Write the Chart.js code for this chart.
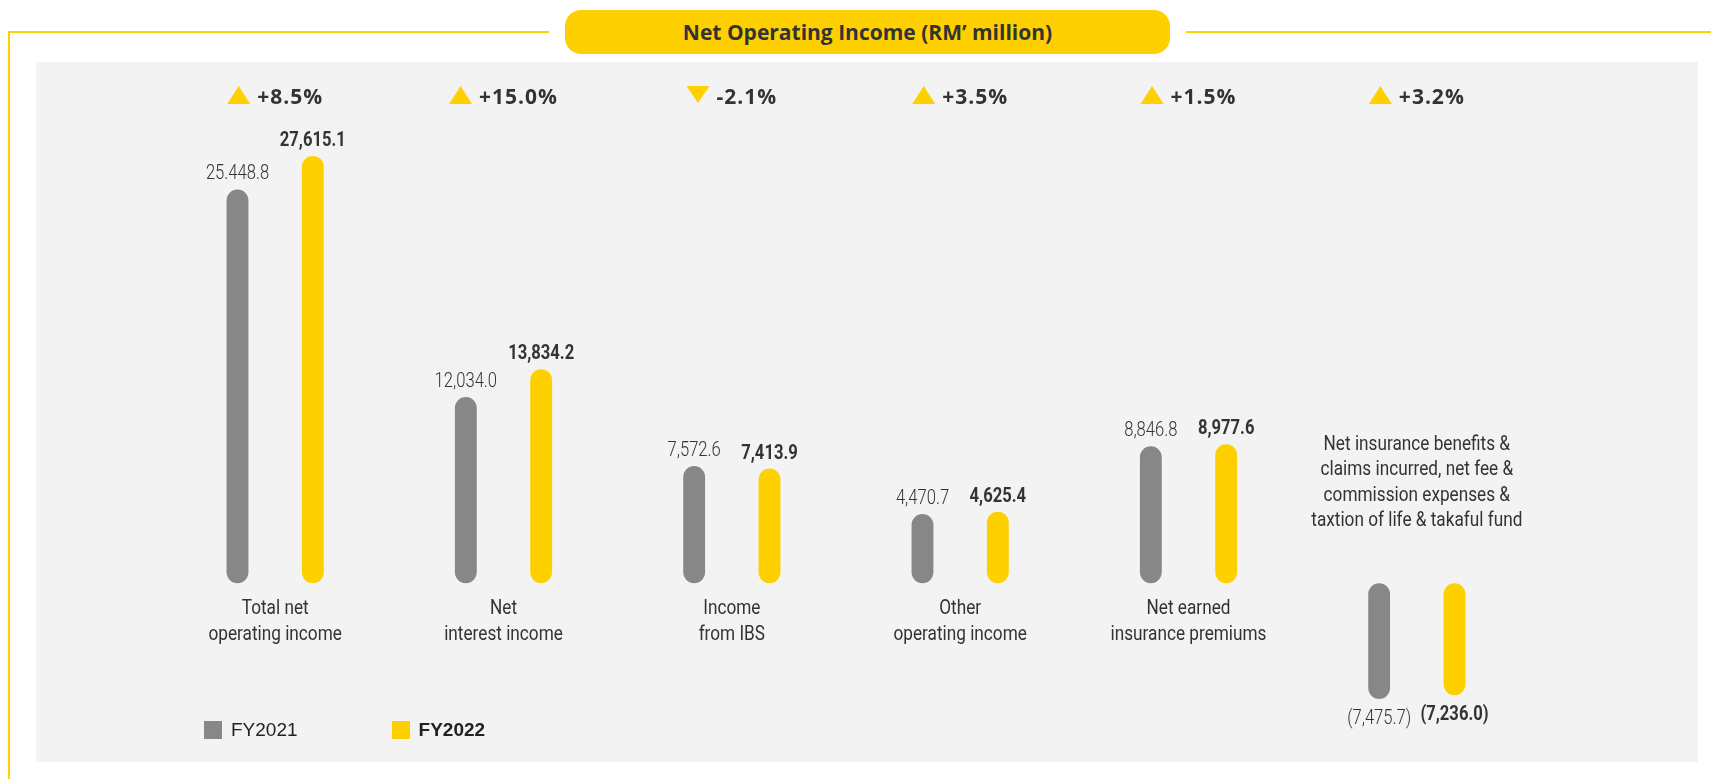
<!DOCTYPE html>
<html>
<head>
<meta charset="utf-8">
<title>Net Operating Income</title>
<script src="https://cdn.jsdelivr.net/npm/chart.js@4.4.1/dist/chart.umd.min.js"></script>
<style>
  body { margin: 0; background: #fff; }
  .wrap { position: relative; width: 1711px; height: 779px; overflow: hidden; font-family: "Open Sans", sans-serif; }
  .line { position: absolute; background: #ffd100; }
  .panel { position: absolute; left: 36px; top: 62px; width: 1662px; height: 700px; background: #f3f3f3; }
  .pill {
    position: absolute; left: 565px; top: 10px; width: 605px; height: 44px;
    border-radius: 16px; background: #ffd000; color: #333;
    display: flex; align-items: center; justify-content: center;
    font-weight: 700; font-size: 21px;
  }
  .chart-box { position: absolute; left: 0; top: 0; width: 1711px; height: 779px; }
  .legend { position: absolute; left: 204px; top: 721px; display: flex; font-family: "Liberation Sans", Arial, sans-serif; font-size: 19px; color: #222; }
  .legend-item { display: flex; align-items: center; height: 18px; }
  .legend-item span.box { width: 18px; height: 18px; margin-right: 9px; }
</style>
</head>
<body>
<div class="wrap">
  <div class="line" style="left:8px; top:31px; width:2px; height:748px;"></div>
  <div class="line" style="left:8px; top:31px; width:541px; height:2px;"></div>
  <div class="line" style="left:1186px; top:31px; width:525px; height:2px;"></div>
  <div class="panel"></div>
  <div class="pill">Net Operating Income (RM’ million)</div>
  <div class="chart-box"><canvas id="chart"></canvas></div>
  <div class="legend" id="legend"></div>
</div>
<script>
const categories = [
  ['Total net', 'operating income'],
  ['Net', 'interest income'],
  ['Income', 'from IBS'],
  ['Other', 'operating income'],
  ['Net earned', 'insurance premiums'],
  ['Net insurance benefits &', 'claims incurred, net fee &', 'commission expenses &', 'taxtion of life & takaful fund']
];
const fy2021 = [25448.8, 12034.0, 7572.6, 4470.7, 8846.8, -7475.7];
const fy2022 = [27615.1, 13834.2, 7413.9, 4625.4, 8977.6, -7236.0];
const fy2021Text = ['25.448.8', '12,034.0', '7,572.6', '4,470.7', '8,846.8', '(7,475.7)'];
const fy2022Text = ['27,615.1', '13,834.2', '7,413.9', '4,625.4', '8,977.6', '(7,236.0)'];
const changes = ['+8.5%', '+15.0%', '-2.1%', '+3.5%', '+1.5%', '+3.2%'];

const GREY = '#878787';
const YELLOW = '#ffd000';
const TEXT = '#333';

// condensed look: draw text squeezed horizontally
function squeezed(ctx, text, x, y, sx) {
  ctx.save();
  ctx.translate(x, y);
  ctx.scale(sx, 1);
  ctx.fillText(text, 0, 0);
  ctx.restore();
}

const labelsPlugin = {
  id: 'labels',
  afterDatasetsDraw(chart) {
    const { ctx, scales: { x, y }, chartArea } = chart;
    const zero = y.getPixelForValue(0);
    const texts = [fy2021Text, fy2022Text];

    ctx.save();
    ctx.textAlign = 'center';
    ctx.textBaseline = 'alphabetic';
    ctx.fillStyle = TEXT;

    // values above / below bars
    chart.data.datasets.forEach((ds, di) => {
      const meta = chart.getDatasetMeta(di);
      ctx.font = di === 0 ? '300 20px Roboto' : '700 20px Roboto';
      meta.data.forEach((bar, i) => {
        const v = ds.data[i];
        const ty = v >= 0 ? bar.y - 10 : bar.y + 25;
        squeezed(ctx, texts[di][i], bar.x, ty, 0.83);
      });
    });

    // category names
    ctx.font = '400 20px Roboto';
    categories.forEach((lines, i) => {
      const cx = x.getPixelForValue(i);
      const negative = fy2021[i] < 0;
      lines.forEach((line, k) => {
        const ty = negative
          ? zero - 57 - (lines.length - 1 - k) * 25.5
          : zero + 31 + k * 25.5;
        squeezed(ctx, line, cx, ty, 0.86);
      });
    });

    // change indicators
    ctx.font = '700 21px "Open Sans"';
    ctx.letterSpacing = '1px';
    ctx.textAlign = 'left';
    const base = chartArea.top - 15;
    changes.forEach((t, i) => {
      const cx = x.getPixelForValue(i);
      const up = !t.startsWith('-');
      const w = ctx.measureText(t).width;
      const left = cx - (23 + 7 + w) / 2;
      ctx.fillStyle = YELLOW;
      ctx.beginPath();
      if (up) {
        ctx.moveTo(left, base);
        ctx.lineTo(left + 11.5, base - 18);
        ctx.lineTo(left + 23, base);
      } else {
        ctx.moveTo(left, base - 18);
        ctx.lineTo(left + 23, base - 18);
        ctx.lineTo(left + 11.5, base - 1);
      }
      ctx.closePath();
      ctx.fill();
      ctx.fillStyle = TEXT;
      ctx.fillText(t, left + 30, base);
    });
    ctx.restore();
  }
};

const chart = new Chart(document.getElementById('chart'), {
  type: 'bar',
  data: {
    labels: categories,
    datasets: [
      { label: 'FY2021', data: fy2021, backgroundColor: GREY },
      { label: 'FY2022', data: fy2022, backgroundColor: YELLOW }
    ]
  },
  options: {
    responsive: true,
    maintainAspectRatio: false,
    animation: false,
    layout: { padding: { left: 161, right: 180, top: 119, bottom: 41 } },
    datasets: {
      bar: {
        categoryPercentage: 0.66,
        barPercentage: 0.29,
        borderRadius: 11,
        borderSkipped: false
      }
    },
    scales: {
      x: { display: false },
      y: { display: false, min: -10000, max: 30000 }
    },
    plugins: {
      legend: { display: false },
      tooltip: { enabled: false }
    }
  },
  plugins: [labelsPlugin]
});

// legend below the bars
const legend = document.getElementById('legend');
chart.data.datasets.forEach((ds, i) => {
  const item = document.createElement('div');
  item.className = 'legend-item';
  item.style.marginRight = i === 0 ? '94px' : '0';
  item.style.fontWeight = i === 1 ? '700' : '400';
  item.innerHTML = '<span class="box" style="background:' + ds.backgroundColor + '"></span>' + ds.label;
  legend.appendChild(item);
});
</script>
</body>
</html>
